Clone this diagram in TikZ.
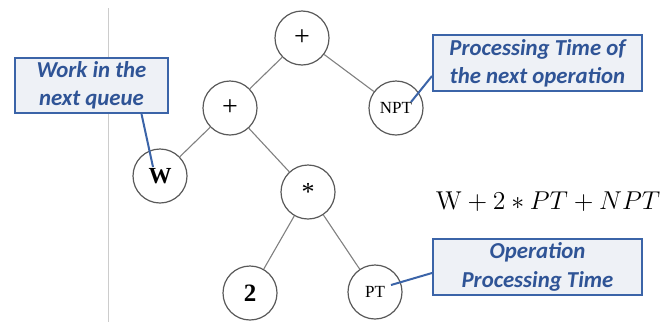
\documentclass[tikz,border=0pt]{standalone}
\usepackage{fontspec}
\usepackage{amsmath}
\newfontfamily\calloutfont{Carlito}
\newfontfamily\treefont{Liberation Serif}
\usetikzlibrary{positioning}
\definecolor{boxblue}{RGB}{59,100,168}
\definecolor{boxfill}{RGB}{238,241,246}
\definecolor{boxtext}{RGB}{47,84,150}
\tikzset{
	x=0.5pt, y=-0.5pt, % one unit is one pixel of the reference
	treenode/.style={circle, draw=black!65, line width=0.6pt, minimum size=27pt, inner sep=0pt, font=\treefont}, % the circles of the tree
	treeedge/.style={draw=black!50, line width=0.55pt}, % lines between circles
	callout/.style={draw=boxblue, fill=boxfill, line width=1pt, text=boxtext, align=center, font=\calloutfont\bfseries\itshape\fontsize{11.4}{14.2}\selectfont, inner sep=0pt}, % the blue boxes
	calloutline/.style={draw=boxblue, line width=1pt},
}
\begin{document}
\begin{tikzpicture}
	\useasboundingbox (0,0) rectangle (672,322);
	\draw[black!20, line width=0.5pt] (108,8) -- (108,322);
	% tree
	\node[treenode, font=\treefont\fontsize{14}{14}\selectfont] at (302,38) (root) {+};
	\node[treenode, font=\treefont\fontsize{14}{14}\selectfont] at (230,108) (plus) {+};
	\node[treenode, font=\treefont\fontsize{8.5}{8.5}\selectfont] at (396,108) (npt) {NPT};
	\node[treenode, font=\treefont\bfseries\fontsize{11.5}{11.5}\selectfont] at (160,176) (w) {W};
	\node[treenode, font=\treefont\fontsize{13}{13}\selectfont] at (308,192) (times) {*};
	\node[treenode, font=\treefont\bfseries\fontsize{12.5}{12.5}\selectfont] at (250,293) (two) {2};
	\node[treenode, font=\treefont\fontsize{8.5}{8.5}\selectfont] at (375,292) (pt) {PT};
	\draw[treeedge] (root) edge (plus)
			(root) edge (npt)
			(plus) edge (w)
			(plus) edge (times)
			(times) edge (two)
			(times) edge (pt);
	% formula
	\node[scale=1.075] at (548,202) (formula) {\fontsize{12}{12}\selectfont$\mathrm{W} + 2 * PT + NPT$};
	% callouts
	\node[callout, minimum width=76.5pt, minimum height=27.5pt] at (91.5,85.5) (workbox) {Work in the\\next queue};
	\node[callout, minimum width=104.5pt, minimum height=28pt] at (537.5,63) (nptbox) {Processing Time of\\the next operation};
	\node[callout, minimum width=104.5pt, minimum height=28pt] at (537.5,267) (ptbox) {Operation\\Processing Time};
	\coordinate (wtip) at ([shift={(-7,-9)}]w.center);
	\coordinate (npttip) at ([shift={(15,-6)}]npt.center);
	\coordinate (pttip) at ([shift={(16,-7)}]pt.center);
	\draw[calloutline] ([xshift=25pt]workbox.south) -- (wtip);
	\draw[calloutline] ([yshift=-6.5pt]nptbox.west) -- (npttip);
	\draw[calloutline] ([yshift=-3pt]ptbox.west) -- (pttip);
\end{tikzpicture}
\end{document}
